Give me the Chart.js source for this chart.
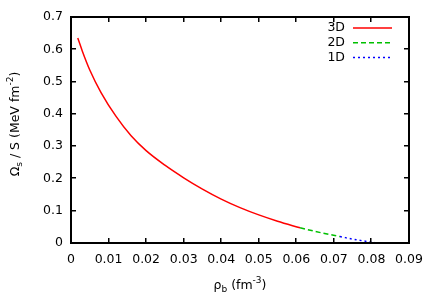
<!DOCTYPE html>
<html>
<head>
<meta charset="utf-8">
<script src="https://cdn.jsdelivr.net/npm/chart.js@4"></script>
<style>
  body { margin: 0; background: #fff; }
</style>
</head>
<body>
<canvas id="omegaChart" width="436" height="305"></canvas>
<script>
// values
const rho3D = [0.0018, 0.003, 0.005, 0.008, 0.012, 0.016, 0.02, 0.025, 0.03, 0.035, 0.04, 0.045, 0.05, 0.055, 0.061];
const omega3D = [0.635, 0.595, 0.536, 0.466, 0.392, 0.332, 0.286, 0.241, 0.202, 0.167, 0.136, 0.1095, 0.087, 0.0675, 0.047];
const rho2D = [0.061, 0.0665, 0.0716];
const omega2D = [0.047, 0.032, 0.020];
const rho1D = [0.0716, 0.076, 0.0809];
const omega1D = [0.020, 0.010, 0.001];
const xTicks = [0, 0.01, 0.02, 0.03, 0.04, 0.05, 0.06, 0.07, 0.08, 0.09];
const yTicks = [0, 0.1, 0.2, 0.3, 0.4, 0.5, 0.6, 0.7];
const seriesNames = ['3D', '2D', '1D'];

const FONT = '"DejaVu Sans", sans-serif';
const toPoints = (xs, ys) => xs.map((x, i) => ({ x: x, y: ys[i] }));

// draw pieces of text with sub/superscripts, centred on 0
function drawRich(ctx, parts, size) {
    let total = 0;
    parts.forEach(p => {
        ctx.font = (p.small ? size * 0.72 : size) + 'px ' + FONT;
        p.w = ctx.measureText(p.t).width;
        total += p.w;
    });
    let x = -total / 2;
    parts.forEach(p => {
        ctx.font = (p.small ? size * 0.72 : size) + 'px ' + FONT;
        ctx.fillText(p.t, x, p.dy || 0);
        x += p.w;
    });
}

const framePlugin = {
    id: 'frame',
    afterDraw(chart) {
        const ctx = chart.ctx;
        const a = chart.chartArea;
        const xs = chart.scales.x, ys = chart.scales.y;
        const L = Math.round(a.left), R = Math.round(a.right);
        const T = Math.round(a.top), B = Math.round(a.bottom);
        ctx.save();
        ctx.globalAlpha = 1;
        ctx.fillStyle = '#000';
        // box
        ctx.fillRect(L - 1, T - 1, R - L + 2, 2);
        ctx.fillRect(L - 1, B - 1, R - L + 2, 2);
        ctx.fillRect(L - 1, T - 1, 2, B - T + 2);
        ctx.fillRect(R - 1, T - 1, 2, B - T + 2);

        // inward ticks on all four sides
        xTicks.forEach(v => {
            const px = Math.round(xs.getPixelForValue(v));
            ctx.fillRect(px - 1, B - 5, 1.5, 5);
            ctx.fillRect(px - 1, T, 1.5, 5);
        });
        yTicks.forEach(v => {
            const py = Math.round(ys.getPixelForValue(v));
            ctx.fillRect(L, py - 1, 5, 1.5);
            ctx.fillRect(R - 5, py - 1, 5, 1.5);
        });

        // legend: text then line sample
        ctx.font = '12.5px ' + FONT;
        ctx.textAlign = 'right';
        ctx.textBaseline = 'middle';
        chart.data.datasets.forEach((ds, i) => {
            const y = 28 + i * 14.8;
            ctx.fillStyle = '#000';
            ctx.fillText(ds.label, 345, y);
            ctx.strokeStyle = ds.borderColor;
            ctx.lineWidth = ds.borderWidth;
            ctx.setLineDash(ds.borderDash || []);
            ctx.beginPath();
            ctx.moveTo(353, y);
            ctx.lineTo(392, y);
            ctx.stroke();
        });
        ctx.setLineDash([]);

        // axis titles
        ctx.fillStyle = '#000';
        ctx.textAlign = 'left';
        ctx.textBaseline = 'alphabetic';
        ctx.save();
        ctx.translate((a.left + a.right) / 2, 289);
        drawRich(ctx, [
            { t: 'ρ' },
            { t: 'b', small: true, dy: 3 },
            { t: ' (fm' },
            { t: '-3', small: true, dy: -6 },
            { t: ')' }
        ], 12.5);
        ctx.restore();

        ctx.save();
        ctx.translate(19, 124);
        ctx.rotate(-Math.PI / 2);
        drawRich(ctx, [
            { t: 'Ω' },
            { t: 's', small: true, dy: 3 },
            { t: ' / S (MeV fm' },
            { t: '-2', small: true, dy: -6 },
            { t: ')' }
        ], 12.5);
        ctx.restore();
        ctx.restore();
    }
};

const ctx = document.getElementById('omegaChart').getContext('2d');
new Chart(ctx, {
    type: 'scatter',
    data: {
        datasets: [
            {
                label: seriesNames[0],
                data: toPoints(rho3D, omega3D),
                borderColor: '#ff0000',
                borderWidth: 1.5,
            },
            {
                label: seriesNames[1],
                data: toPoints(rho2D, omega2D),
                borderColor: '#00c000',
                borderWidth: 1.5,
                borderDash: [5, 3],
            },
            {
                label: seriesNames[2],
                data: toPoints(rho1D, omega1D),
                borderColor: '#0000ff',
                borderWidth: 1.5,
                borderDash: [2, 3],
            },
        ].map(ds => Object.assign(ds, { showLine: true, pointRadius: 0, cubicInterpolationMode: 'monotone', fill: false })),
    },
    options: {
        responsive: false,
        animation: false,
        layout: { padding: { left: 0, right: 27, top: 17, bottom: 0 } },
        plugins: {
            legend: { display: false },
            tooltip: { enabled: false },
        },
        scales: {
            x: {
                type: 'linear',
                min: 0,
                max: 0.09,
                afterBuildTicks: s => { s.ticks = xTicks.map(v => ({ value: v })); },
                afterFit: s => { s.height = 62; },
                grid: { display: false, drawTicks: false, tickLength: 0 },
                border: { display: false },
                ticks: {
                    padding: 9,
                    color: '#000',
                    font: { family: FONT, size: 12.5 },
                    callback: v => String(+v.toFixed(2)),
                },
            },
            y: {
                min: 0,
                max: 0.7,
                afterBuildTicks: s => { s.ticks = yTicks.map(v => ({ value: v })); },
                afterFit: s => { s.width = 71; },
                grid: { display: false, drawTicks: false, tickLength: 0 },
                border: { display: false },
                ticks: {
                    padding: 8,
                    color: '#000',
                    font: { family: FONT, size: 12.5 },
                    callback: v => String(+v.toFixed(1)),
                },
            },
        },
    },
    plugins: [framePlugin],
});
</script>
</body>
</html>
